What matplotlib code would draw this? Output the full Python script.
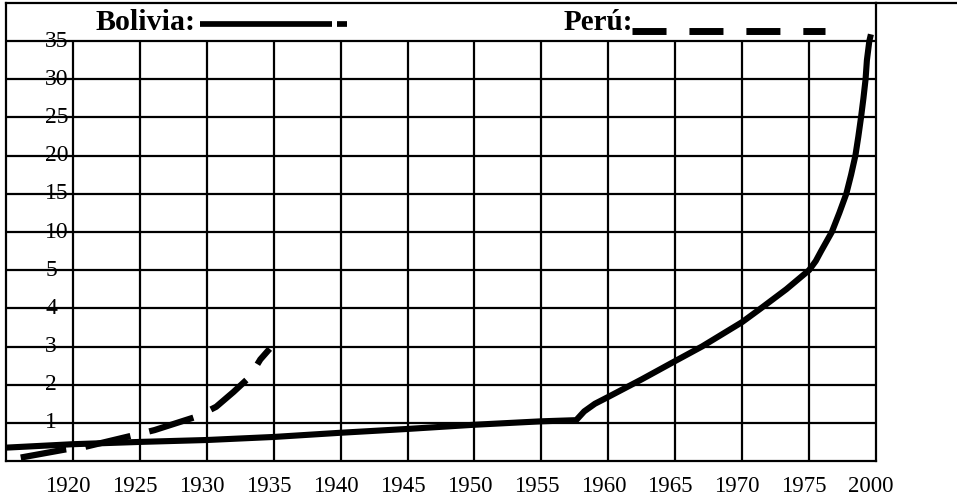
import numpy as np
import matplotlib.pyplot as plt
from matplotlib.lines import Line2D
from matplotlib import transforms

plt.rcParams['font.family'] = ['Liberation Serif', 'DejaVu Serif']

# axis categories (the chart uses an uneven scale on both axes)
x_ticks = [1920, 1925, 1930, 1935, 1940, 1945, 1950, 1955, 1960, 1965, 1970, 1975, 2000]
y_ticks = [1, 2, 3, 4, 5, 10, 15, 20, 25, 30, 35]

# Bolivia (solid line)
bol_years = [1915, 1920, 1925, 1930, 1935, 1940, 1945, 1950, 1955, 1957.6, 1958.2,
             1959.0, 1960, 1962.5, 1965, 1967.0, 1970, 1971.4, 1973.3,
             1975, 1977.5, 1979.5, 1983.5, 1986.3, 1988.9, 1990.7, 1992.3, 1993.4,
             1994.4, 1995.3, 1996.1, 1996.6, 1997.5, 1998.1]
bol_vals = [0.35, 0.44, 0.5, 0.55, 0.63, 0.74, 0.84, 0.95, 1.04, 1.07, 1.3,
            1.5, 1.68, 2.14, 2.62, 3.0, 3.64, 4.0, 4.5,
            5.0, 6.2, 7.5, 10, 12.5, 15, 17.5, 20, 22.5,
            25, 27.5, 30, 32.5, 35, 35.9]

# Perú (dashed line)
peru_years = [1916.1, 1919.4, 1920.9, 1924.6, 1926.1, 1929.3, 1930.7, 1932.0,
              1933.2, 1934.0, 1934.7]
peru_vals = [0.09, 0.3, 0.37, 0.68, 0.81, 1.17, 1.42, 1.81, 2.2, 2.66, 2.94]

x_breaks = [1915] + x_ticks
y_breaks = [0] + y_ticks + [40]


def fwd_x(v):
    return np.interp(v, x_breaks, np.arange(len(x_breaks)))


def inv_x(v):
    return np.interp(v, np.arange(len(x_breaks)), x_breaks)


def fwd_y(v):
    return np.interp(v, y_breaks, np.arange(len(y_breaks)))


def inv_y(v):
    return np.interp(v, np.arange(len(y_breaks)), y_breaks)


W, H = 957, 498
fig = plt.figure(figsize=(W / 100, H / 100), dpi=100)
ax = fig.add_axes([6 / W, 37 / H, 870 / W, 458 / H])

ax.set_xscale('function', functions=(fwd_x, inv_x))
ax.set_yscale('function', functions=(fwd_y, inv_y))
ax.set_xlim(1915, 2000)
ax.set_ylim(0, 40)

grid_lw = 1.6
for s in ax.spines.values():
    s.set_linewidth(grid_lw)
    s.set_color('black')

ax.set_yticks(y_ticks)
ax.set_yticklabels([])
ax.grid(axis='y', color='black', linewidth=grid_lw)
ax.vlines(x_ticks[:-1], 0, 35, color='black', linewidth=grid_lw)

for v in y_ticks:
    ax.text(0.045, v, str(v), transform=ax.get_yaxis_transform(),
            ha='left', va='center', fontsize=17)

ax.set_xticks(x_ticks)
ax.set_xticklabels([str(y) for y in x_ticks])
ax.tick_params(axis='both', length=0)
ax.tick_params(axis='x', pad=11, labelsize=16.5)
shift = transforms.ScaledTranslation(-5 / 100, 0, fig.dpi_scale_trans)
for lab in ax.get_xticklabels():
    lab.set_transform(lab.get_transform() + shift)

ax.plot(bol_years, bol_vals, color='black', linewidth=4.4,
        solid_capstyle='butt', solid_joinstyle='round', zorder=3)
ax.plot(peru_years, peru_vals, color='black', linewidth=4.5,
        linestyle=(0, (7.4, 3.1)), dash_capstyle='butt', zorder=3)


def px(x, y):
    return x / W, 1 - y / H


# top border runs across the whole picture
fig.add_artist(Line2D(*zip(px(876, 3), px(957, 3)), color='black', linewidth=grid_lw))

# legend row
bx, by = px(95, 29.5)
fig.text(bx, by, 'Bolivia:', fontsize=21.5, fontweight='bold', va='baseline')
fig.add_artist(Line2D(*zip(px(200, 24.5), px(332, 24.5)), color='black',
                      linewidth=4.1, solid_capstyle='butt'))
fig.add_artist(Line2D(*zip(px(337, 24.5), px(347, 24.5)), color='black',
                      linewidth=4.1, solid_capstyle='butt'))

pxx, pyy = px(564, 30)
fig.text(pxx, pyy, 'Perú:', fontsize=21, fontweight='bold', va='baseline')
fig.add_artist(Line2D(*zip(px(632, 31.5), px(825, 31.5)), color='black',
                      linewidth=5, linestyle=(0, (4.9, 3.3)), dash_capstyle='butt'))

fig.savefig('out.png', dpi=100)
